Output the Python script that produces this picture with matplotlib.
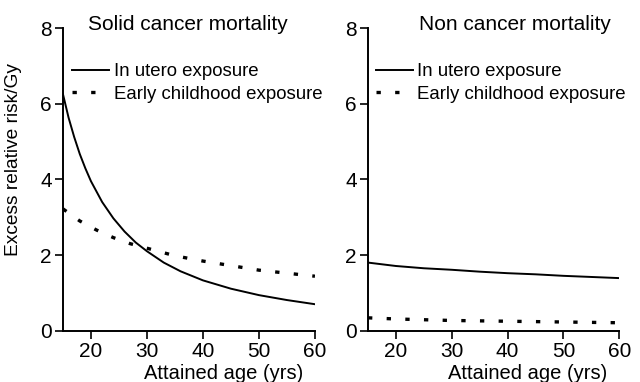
# Excess relative risk per Gy by attained age, in utero vs early childhood exposure
import matplotlib
matplotlib.use("Agg")
import matplotlib.pyplot as plt

plt.rcParams["font.family"] = ["Liberation Sans", "DejaVu Sans"]

# solid cancer mortality
solid_age_utero = [15, 16, 17, 18, 19, 20, 22, 24, 26, 28, 30, 33, 36, 40, 45, 50, 55, 60]
solid_err_utero = [6.25, 5.63, 5.12, 4.67, 4.29, 3.95, 3.40, 2.97, 2.62, 2.33, 2.10,
                   1.80, 1.57, 1.33, 1.11, 0.94, 0.81, 0.70]
solid_age_child = [15, 18, 21, 24, 27, 30, 35, 40, 45, 50, 55, 60]
solid_err_child = [3.22, 2.90, 2.66, 2.46, 2.30, 2.18, 1.98, 1.84, 1.72, 1.60, 1.52, 1.44]

# non cancer mortality
nc_age = [15, 20, 25, 30, 35, 40, 45, 50, 55, 60]
nc_err_utero = [1.80, 1.71, 1.65, 1.61, 1.56, 1.52, 1.49, 1.45, 1.42, 1.39]
nc_err_child = [0.34, 0.31, 0.29, 0.27, 0.26, 0.25, 0.24, 0.23, 0.22, 0.21]

titles = ["Solid cancer mortality", "Non cancer mortality"]
yticks = [0, 2, 4, 6, 8]
xticks = [20, 30, 40, 50, 60]

fig = plt.figure(figsize=(6.4, 3.82), dpi=100)
ax1 = fig.add_axes([0.0984, 0.1343, 0.3937, 0.7924])
ax2 = fig.add_axes([0.575, 0.1343, 0.3927, 0.7924])

dots = (0, (1.3, 4.3))
panels = [
    (ax1, solid_age_utero, solid_err_utero, solid_age_child, solid_err_child),
    (ax2, nc_age, nc_err_utero, nc_age, nc_err_child),
]
for i, (ax, xu, yu, xc, yc) in enumerate(panels):
    ax.plot(xu, yu, color="black", lw=1.4, label="In utero exposure")
    ax.plot(xc, yc, color="black", lw=2.4, linestyle=dots,
            label="Early childhood exposure")
    ax.set_xlim(15, 60)
    ax.set_ylim(0, 8)
    ax.set_xticks(xticks)
    ax.set_yticks(yticks)
    for s in ["top", "right"]:
        ax.spines[s].set_visible(False)
    for s in ["left", "bottom"]:
        ax.spines[s].set_linewidth(1.4)
    ax.tick_params(direction="out", length=6, width=1.2, labelsize=15, pad=2)
    ax.set_xlabel("Attained age (yrs)", fontsize=14.5, va="top")
    ax.xaxis.set_label_coords(0.637, -0.11)
    ax.legend(loc="upper left", bbox_to_anchor=(0.035 if i == 0 else 0.03, 0.883),
              frameon=False, fontsize=13.4, handlelength=2.0,
              handletextpad=0.25, labelspacing=0.28, borderaxespad=0,
              borderpad=0)

ax1.text(0.495, 1.01, titles[0], transform=ax1.transAxes, ha="center", va="center",
         fontsize=15)
ax2.text(0.585, 1.01, titles[1], transform=ax2.transAxes, ha="center", va="center",
         fontsize=15)
ax1.set_ylabel("Excess relative risk/Gy", fontsize=13.8)
ax1.yaxis.set_label_coords(-0.162, 0.567)

fig.savefig("out.png", dpi=100)
